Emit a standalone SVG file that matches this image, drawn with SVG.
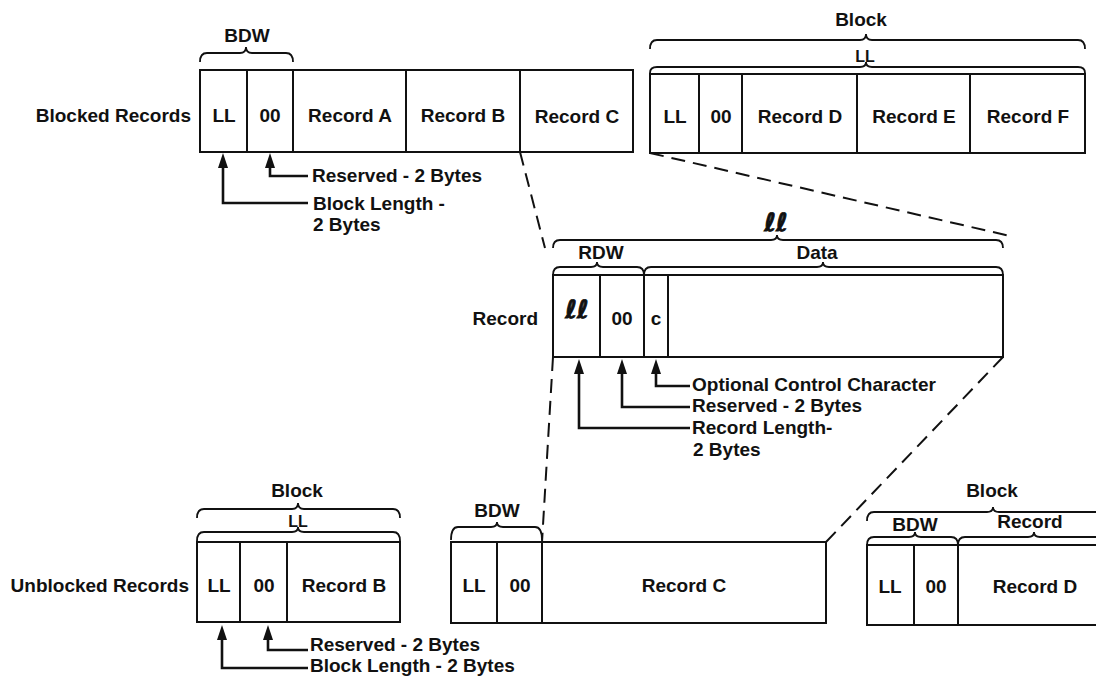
<svg xmlns="http://www.w3.org/2000/svg" xmlns:xlink="http://www.w3.org/1999/xlink" width="1096" height="679" viewBox="0 0 1096 679">
<style>
  .box { fill: #fff; stroke: #111; stroke-width: 2; }
  .div { stroke: #111; stroke-width: 2; }
  .brace { fill: none; stroke: #111; stroke-width: 1.8; }
  .t { font-family: "Liberation Sans", Arial, sans-serif; font-size: 19px; font-weight: bold; fill: #111; }
  .c { text-anchor: middle; }
  .e { text-anchor: end; }
  .sm { font-size: 16px; }
  .scr { font-family: "DejaVu Sans", sans-serif; font-style: italic; font-weight: bold; font-size: 25px; fill: #111; stroke: #111; stroke-width: 0.9; text-anchor: middle; }
  .dash { fill: none; stroke: #111; stroke-width: 2; stroke-dasharray: 14 8; }
  .lead { fill: none; stroke: #111; stroke-width: 2.6; }
  .head { fill: #111; }
</style>
<defs>
  <path id="arr" d="M0,0 L-5,15 L5,15 Z"/>
</defs>
<rect width="1096" height="679" fill="#fff"/>

<g id="connectors">
  <line class="dash" x1="520" y1="152" x2="545" y2="248"/>
  <line class="dash" x1="650" y1="153" x2="1010" y2="236"/>
  <line class="dash" x1="553" y1="357" x2="542" y2="542"/>
  <line class="dash" x1="1003" y1="357" x2="826" y2="542"/>
  <polyline class="lead" points="223,165 223,203 308,203"/>
  <polyline class="lead" points="270,165 270,176 308,176"/>
  <use xlink:href="#arr" href="#arr" class="head" x="223" y="153"/>
  <use xlink:href="#arr" href="#arr" class="head" x="270" y="153"/>
  <polyline class="lead" points="656,371 656,386 690,386"/>
  <polyline class="lead" points="622,371 622,407 690,407"/>
  <polyline class="lead" points="579,371 579,428 690,428"/>
  <use xlink:href="#arr" href="#arr" class="head" x="656" y="359"/>
  <use xlink:href="#arr" href="#arr" class="head" x="622" y="359"/>
  <use xlink:href="#arr" href="#arr" class="head" x="579" y="359"/>
  <polyline class="lead" points="268,637 268,650 308,650"/>
  <polyline class="lead" points="222,637 222,668 308,668"/>
  <use xlink:href="#arr" href="#arr" class="head" x="268" y="625"/>
  <use xlink:href="#arr" href="#arr" class="head" x="222" y="625"/>
</g>

<g id="blocked-records">
  <text class="t e" x="191" y="122">Blocked Records</text>
  <rect class="box" x="200" y="70" width="433" height="82"/>
  <line class="div" x1="247" y1="70" x2="247" y2="152"/>
  <line class="div" x1="293" y1="70" x2="293" y2="152"/>
  <line class="div" x1="406" y1="70" x2="406" y2="152"/>
  <line class="div" x1="520" y1="70" x2="520" y2="152"/>
  <text class="t c" x="224" y="122">LL</text>
  <text class="t c" x="270" y="122">00</text>
  <text class="t c" x="350" y="122">Record A</text>
  <text class="t c" x="463" y="122">Record B</text>
  <text class="t c" x="577" y="123">Record C</text>
  <path class="brace" d="M200,62 Q200,53 207,53 L240,53 Q246,53 246,47 Q246,53 252,53 L286,53 Q293,53 293,62"/>
  <text class="t c" x="247" y="42">BDW</text>
  <text class="t" x="312" y="182">Reserved - 2 Bytes</text>
  <text class="t" x="313" y="210">Block Length -</text>
  <text class="t" x="313" y="231">2 Bytes</text>
</g>

<g id="block-def">
  <path class="brace" d="M650,49 Q650,40 657,40 L860,40 Q866,40 866,34 Q866,40 872,40 L1078,40 Q1085,40 1085,49"/>
  <text class="t c" x="861" y="26">Block</text>
  <path class="brace" d="M650,73 Q650,67 657,67 L860,67 Q866,67 866,62 Q866,67 872,67 L1078,67 Q1085,67 1085,73"/>
  <text class="t c sm" x="865" y="62">LL</text>
  <rect class="box" x="650" y="74" width="435" height="79"/>
  <line class="div" x1="699" y1="74" x2="699" y2="153"/>
  <line class="div" x1="742" y1="74" x2="742" y2="153"/>
  <line class="div" x1="857" y1="74" x2="857" y2="153"/>
  <line class="div" x1="970" y1="74" x2="970" y2="153"/>
  <text class="t c" x="675" y="123">LL</text>
  <text class="t c" x="721" y="123">00</text>
  <text class="t c" x="800" y="123">Record D</text>
  <text class="t c" x="914" y="123">Record E</text>
  <text class="t c" x="1028" y="123">Record F</text>
</g>

<g id="record">
  <path class="brace" d="M553,248 Q553,240 560,240 L771,240 Q777,240 777,235 Q777,240 783,240 L996,240 Q1003,240 1003,248"/>
  <text class="scr" x="776" y="231">ℓℓ</text>
  <path class="brace" d="M553,275 Q553,267 560,267 L591,267 Q597,267 597,262 Q597,267 603,267 L637,267 Q644,267 644,275"/>
  <path class="brace" d="M644,275 Q644,267 651,267 L817,267 Q823,267 823,262 Q823,267 829,267 L996,267 Q1003,267 1003,275"/>
  <text class="t c" x="601" y="259">RDW</text>
  <text class="t c" x="817" y="259">Data</text>
  <text class="t e" x="538" y="325">Record</text>
  <rect class="box" x="553" y="275" width="450" height="82"/>
  <line class="div" x1="600" y1="275" x2="600" y2="357"/>
  <line class="div" x1="644" y1="275" x2="644" y2="357"/>
  <line class="div" x1="668" y1="275" x2="668" y2="357"/>
  <text class="scr" x="577" y="318">ℓℓ</text>
  <text class="t c" x="622" y="325">00</text>
  <text class="t c" x="656" y="325">c</text>
  <text class="t" x="692" y="391">Optional Control Character</text>
  <text class="t" x="692" y="412">Reserved - 2 Bytes</text>
  <text class="t" x="692" y="434">Record Length-</text>
  <text class="t" x="693" y="456">2 Bytes</text>
</g>

<g id="unblocked-records">
  <text class="t e" x="189" y="592">Unblocked Records</text>
  <path class="brace" d="M197,518 Q197,509 204,509 L292,509 Q298,509 298,503 Q298,509 304,509 L393,509 Q400,509 400,518"/>
  <text class="t c" x="297" y="497">Block</text>
  <path class="brace" d="M197,541 Q197,532 204,532 L292,532 Q298,532 298,527 Q298,532 304,532 L393,532 Q400,532 400,541"/>
  <text class="t c sm" x="298" y="527">LL</text>
  <rect class="box" x="197" y="542" width="203" height="80"/>
  <line class="div" x1="240" y1="542" x2="240" y2="622"/>
  <line class="div" x1="287" y1="542" x2="287" y2="622"/>
  <text class="t c" x="219" y="592">LL</text>
  <text class="t c" x="264" y="592">00</text>
  <text class="t c" x="344" y="592">Record B</text>
  <text class="t" x="310" y="651">Reserved - 2 Bytes</text>
  <text class="t" x="310" y="672">Block Length - 2 Bytes</text>
</g>

<g id="block-c">
  <path class="brace" d="M451,540 Q451,527 458,527 L491,527 Q497,527 497,522 Q497,527 503,527 L535,527 Q542,527 542,540"/>
  <text class="t c" x="497" y="517">BDW</text>
  <rect class="box" x="451" y="542" width="375" height="81"/>
  <line class="div" x1="497" y1="542" x2="497" y2="623"/>
  <line class="div" x1="542" y1="542" x2="542" y2="623"/>
  <text class="t c" x="474" y="592">LL</text>
  <text class="t c" x="520" y="592">00</text>
  <text class="t c" x="684" y="592">Record C</text>
</g>

<g id="block-d">
  <path class="brace" d="M867,521 Q867,512 874,512 L987,512 Q993,512 993,507 Q993,512 999,512 L1110,512"/>
  <text class="t c" x="992" y="497">Block</text>
  <path class="brace" d="M867,545 Q867,537 874,537 L909,537 Q915,537 915,532 Q915,537 921,537 L951,537 Q958,537 958,545"/>
  <path class="brace" d="M958,545 Q958,537 965,537 L1028,537 Q1034,537 1034,532 Q1034,537 1040,537 L1110,537"/>
  <text class="t c" x="915" y="531">BDW</text>
  <text class="t c" x="1030" y="528">Record</text>
  <rect class="box" x="867" y="545" width="250" height="80"/>
  <line class="div" x1="914" y1="545" x2="914" y2="625"/>
  <line class="div" x1="958" y1="545" x2="958" y2="625"/>
  <text class="t c" x="890" y="593">LL</text>
  <text class="t c" x="936" y="593">00</text>
  <text class="t c" x="1035" y="593">Record D</text>
</g>
</svg>
